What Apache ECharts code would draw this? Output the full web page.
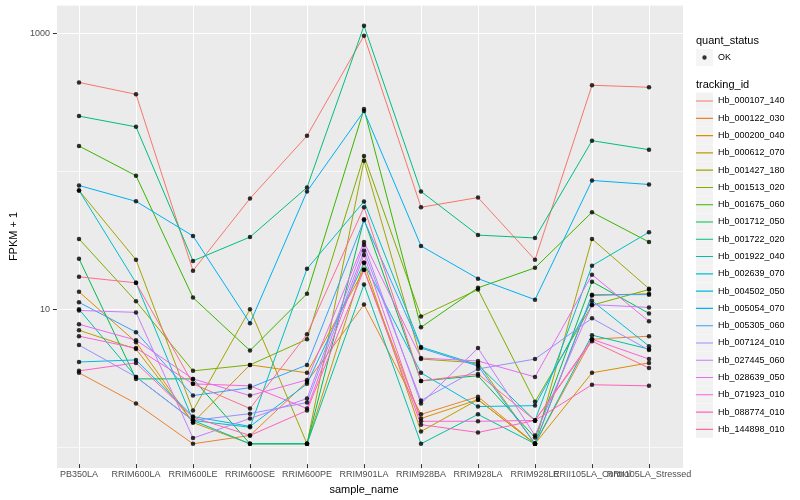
<!DOCTYPE html>
<html><head><meta charset="utf-8">
<script src="https://cdn.jsdelivr.net/npm/echarts@6/dist/echarts.min.js"></script>
<style>html,body{margin:0;padding:0;background:#fff}#c{width:800px;height:500px}</style>
</head><body><div id="c"></div>
<script>
const categories = ['PB350LA','RRIM600LA','RRIM600LE','RRIM600SE','RRIM600PE','RRIM901LA','RRIM928BA','RRIM928LA','RRIM928LE','RRII105LA_Control','RRII105LA_Stressed'];
const trackingIds = ['Hb_000107_140','Hb_000122_030','Hb_000200_040','Hb_000612_070','Hb_001427_180','Hb_001513_020','Hb_001675_060','Hb_001712_050','Hb_001722_020','Hb_001922_040','Hb_002639_070','Hb_004502_050','Hb_005054_070','Hb_005305_060','Hb_007124_010','Hb_027445_060','Hb_028639_050','Hb_071923_010','Hb_088774_010','Hb_144898_010'];
const colors = ['#F8766D','#EA8331','#D89000','#C09B00','#A3A500','#7CAE00','#39B600','#00BB4E','#00BF7D','#00C1A3','#00BFC4','#00BAE0','#00B0F6','#35A2FF','#9590FF','#C77CFF','#E76BF3','#FA62DB','#FF62BC','#FF6C91'];
const yLabelValues = [10, 1000];

// FPKM + 1 per sample, one array per tracking_id
const Hb_000107_140 = [437, 358, 18.4, 62, 178, 959, 53.5, 63, 22.1, 417, 403];
const Hb_000122_030 = [3.3, 1.97, 1, 1.15, 2.84, 10.4, 1.64, 2.21, 1, 5.81, 6.11];
const Hb_000200_040 = [12.9, 5.53, 1.43, 3.77, 3.3, 18.7, 1.53, 2.1, 1, 3.3, 3.9];
const Hb_000612_070 = [6.75, 4.92, 1.43, 1, 1, 21.0, 1.23, 2.1, 1, 12.1, 12.5];
const Hb_001427_180 = [71, 22.1, 1.75, 9.6, 1, 117, 4.16, 3.9, 1, 31.4, 13.6];
const Hb_001513_020 = [31.4, 11.0, 3.41, 3.77, 5.81, 127, 8.53, 13.4, 2.03, 10.3, 13.4];
const Hb_001675_060 = [150, 91, 11.7, 4.8, 12.5, 279, 7.1, 13.8, 19.3, 49.2, 29.8];
const Hb_001712_050 = [22.5, 2.98, 2.98, 1, 1, 43.8, 2.88, 3.14, 1.11, 15.3, 8.97];
const Hb_001722_020 = [248, 207, 21.7, 32.4, 74.7, 1133, 69.8, 33.5, 31.9, 164, 141];
const Hb_001922_040 = [9.6, 3.08, 1.48, 1, 1, 14.6, 1, 1.64, 1, 6.22, 4.92];
const Hb_002639_070 = [71, 15, 1.48, 1.32, 19, 59, 5.1, 3.77, 1.48, 20, 35.2];
const Hb_004502_050 = [3.96, 4.1, 1.58, 1.34, 2.74, 21.0, 3.3, 1.87, 1.9, 11.1, 5.17];
const Hb_005054_070 = [77.2, 59.1, 33.0, 7.6, 69.8, 270, 27.9, 16.1, 11.3, 84, 78.5];
const Hb_005305_060 = [10.8, 6.54, 2.25, 2.57, 3.77, 43.1, 5.0, 3.7, 1, 12.3, 12.3];
const Hb_007124_010 = [5.26, 3.08, 1.48, 1.66, 2.0, 25.7, 2.07, 3.52, 4.16, 8.26, 4.84];
const Hb_027445_060 = [9.43, 9.12, 1.1, 1.53, 2.14, 28.4, 1.97, 5.0, 1.15, 10.4, 9.92];
const Hb_028639_050 = [7.47, 5.72, 2.98, 2.25, 2.93, 29.8, 4.23, 4.03, 3.08, 17.2, 7.85];
const Hb_071923_010 = [6.11, 5.0, 2.74, 2.65, 1.81, 24.0, 1.46, 1.46, 1.48, 5.81, 4.16];
const Hb_088774_010 = [3.41, 3.9, 1.56, 1.15, 1.75, 18.7, 1.38, 1.21, 1.48, 2.7, 2.65];
const Hb_144898_010 = [16.6, 15, 2.74, 1.81, 6.32, 53.5, 2.88, 3.24, 1.48, 5.62, 3.58];

const seriesValues = [Hb_000107_140, Hb_000122_030, Hb_000200_040, Hb_000612_070, Hb_001427_180, Hb_001513_020, Hb_001675_060, Hb_001712_050, Hb_001722_020, Hb_001922_040, Hb_002639_070, Hb_004502_050, Hb_005054_070, Hb_005305_060, Hb_007124_010, Hb_027445_060, Hb_028639_050, Hb_071923_010, Hb_088774_010, Hb_144898_010];

const FONT = 'Liberation Sans, Arial, Helvetica, sans-serif';
const Y_MIN = Math.pow(10, -0.1486);
const Y_MAX = Math.pow(10, 3.2065);

const lineSeries = trackingIds.map((id, i) => ({
  name: id, type: 'line', xAxisIndex: 1, yAxisIndex: 2,
  data: seriesValues[i], showSymbol: false, symbol: 'none', silent: true,
  color: colors[i], lineStyle: {color: colors[i], width: 1}, z: 2
}));
const pointData = [];
seriesValues.forEach(arr => arr.forEach((v, j) => pointData.push([j, v])));
const pointSeries = {
  name: 'OK', type: 'scatter', xAxisIndex: 1, yAxisIndex: 2,
  data: pointData, symbol: 'circle', symbolSize: 4.5, color: '#000',
  itemStyle: {color: '#000'}, silent: true, z: 3
};

// key line icon: a thin bar in the middle of a full 17x17 box (tiny corner specks keep the box size)
const KEY_LINE = 'path://M0,8 L17,8 L17,9.1 L0,9.1 Z M0,0 L0.01,0 L0.01,0.01 Z M17,17 L16.99,17 L16.99,16.99 Z';
const KEY_DOT = 'path://M8.5,6.3 A2.2,2.2 0 1 1 8.49,6.3 Z M0,0 L0.01,0 L0.01,0.01 Z M17,17 L16.99,17 L16.99,16.99 Z';

const legendBase = {orient: 'vertical', padding: 0, selectedMode: false, itemGap: 0.28, itemWidth: 17, itemHeight: 17};

const option = {
  animation: false,
  backgroundColor: '#fff',
  textStyle: {fontFamily: FONT},
  title: [
    {text: 'quant_status', left: 696, top: 35, padding: 0, textStyle: {fontSize: 11, fontWeight: 'normal', color: '#000', fontFamily: FONT}},
    {text: 'tracking_id', left: 696, top: 79, padding: 0, textStyle: {fontSize: 11, fontWeight: 'normal', color: '#000', fontFamily: FONT}}
  ],
  grid: [
    {left: 45, right: 117, top: 5, bottom: 32, show: true, backgroundColor: '#EBEBEB', borderWidth: 0, containLabel: false},
    {left: 79, right: 151, top: 5, bottom: 32, show: false, containLabel: false}
  ],
  xAxis: [
    {type: 'value', gridIndex: 0, show: false, min: 0, max: 1},
    {type: 'category', gridIndex: 1, data: categories, boundaryGap: false,
     axisLine: {show: false},
     axisTick: {show: true, length: 4, lineStyle: {color: '#333333', width: 1}},
     axisLabel: {interval: 0, hideOverlap: false, color: '#4D4D4D', fontSize: 9, margin: 6, fontFamily: FONT},
     splitLine: {show: true, lineStyle: {color: '#FFFFFF', width: 1}},
     name: 'sample_name', nameLocation: 'middle', nameGap: 14,
     nameTextStyle: {color: '#000', fontSize: 11, fontFamily: FONT}}
  ],
  yAxis: [
    {type: 'log', logBase: 10, gridIndex: 0, min: Y_MIN, max: Y_MAX, position: 'left',
     axisLine: {show: false},
     axisTick: {show: true, length: 4, lineStyle: {color: '#333333', width: 1}, customValues: yLabelValues},
     axisLabel: {color: '#4D4D4D', fontSize: 9, margin: 7, fontFamily: FONT, customValues: yLabelValues,
       formatter: v => { const e = Math.log10(v); return (Math.abs(e - 1) < 1e-6 || Math.abs(e - 3) < 1e-6) ? String(Math.round(v)) : ''; }},
     splitLine: {show: true, lineStyle: {color: '#FFFFFF', width: 1.1}},
     name: 'FPKM + 1', nameLocation: 'middle', nameGap: 28, nameRotate: 90,
     nameTextStyle: {color: '#000', fontSize: 11, fontFamily: FONT}},
    {type: 'log', logBase: 10, gridIndex: 0, min: Y_MIN, max: Y_MAX, position: 'left',
     axisLine: {show: false}, axisTick: {show: false}, axisLabel: {show: false},
     splitLine: {show: true, lineStyle: {color: '#FFFFFF', width: 0.6}}},
    {type: 'log', logBase: 10, gridIndex: 1, min: Y_MIN, max: Y_MAX, show: false,
     splitLine: {show: false}}
  ],
  legend: [
    Object.assign({}, legendBase, {left: 696, top: 49,
      data: [{name: 'OK', icon: 'rect', itemStyle: {color: '#F2F2F2', borderWidth: 0}}],
      textStyle: {color: '#000', fontSize: 9, fontFamily: FONT}}),
    Object.assign({}, legendBase, {left: 696, top: 49,
      data: [{name: 'OK', icon: KEY_DOT, itemStyle: {color: '#000', borderWidth: 0}}],
      textStyle: {color: 'rgba(0,0,0,0)', fontSize: 9, fontFamily: FONT}}),
    Object.assign({}, legendBase, {left: 696, top: 92.5,
      data: trackingIds.map(id => ({name: id, icon: 'rect', itemStyle: {color: '#F2F2F2', borderWidth: 0}})),
      textStyle: {color: '#000', fontSize: 9, fontFamily: FONT}}),
    Object.assign({}, legendBase, {left: 696, top: 92.5,
      data: trackingIds.map((id, i) => ({name: id, icon: KEY_LINE, itemStyle: {color: colors[i], borderWidth: 0}})),
      textStyle: {color: 'rgba(0,0,0,0)', fontSize: 9, fontFamily: FONT}})
  ],
  series: lineSeries.concat([pointSeries])
};

const chart = echarts.init(document.getElementById('c'), null, {renderer: 'canvas'});
chart.setOption(option);
</script>
</body></html>
